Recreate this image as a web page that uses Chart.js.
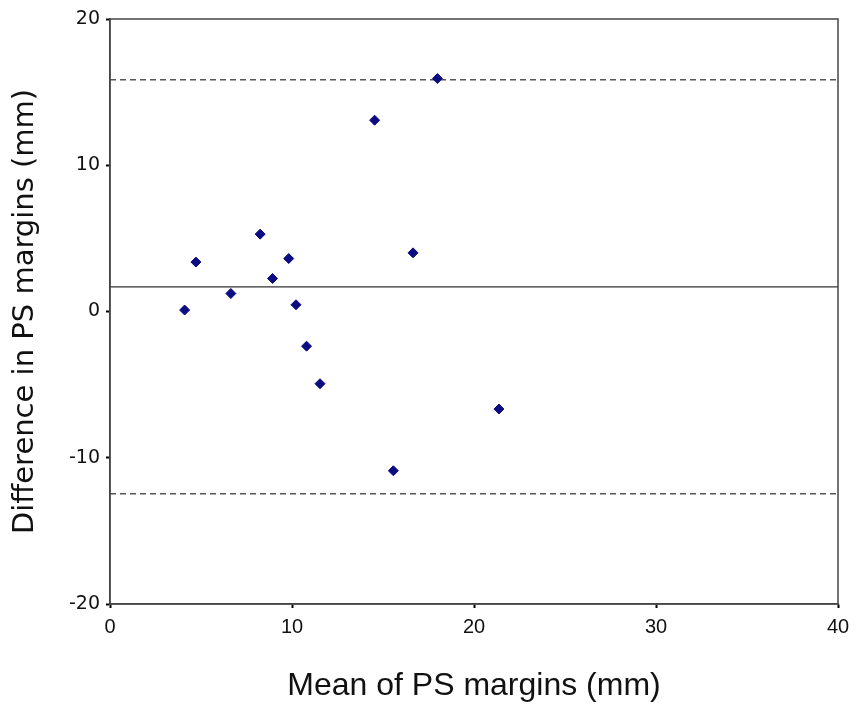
<!DOCTYPE html>
<html>
<head>
<meta charset="utf-8">
<title>Bland-Altman PS margins</title>
<script src="https://cdn.jsdelivr.net/npm/chart.js@4.4.1/dist/chart.umd.min.js"></script>
<style>
  html, body { margin: 0; padding: 0; background: #fff; }
  #wrap { width: 857px; height: 710px; position: relative; }
</style>
</head>
<body>
<div id="wrap"><canvas id="baChart"></canvas></div>
<script>
// --- Data ---
const meanPS = [4.10, 4.72, 6.64, 8.25, 8.93, 9.82, 10.22, 10.80, 11.54, 14.54, 15.57, 16.65, 17.99, 21.37];
const diffPS = [0.10, 3.38, 1.23, 5.29, 2.26, 3.62, 0.46, -2.37, -4.94, 13.08, -10.89, 4.01, 15.93, -6.67];

const meanDiff = 1.69;   // bias line
const upperLoA = 15.85;  // upper limit of agreement
const lowerLoA = -12.47; // lower limit of agreement

const xRange = [0, 40];
const yRange = [-20, 20];
const tickStep = 10;

// points for the scatter
const points = meanPS.map((m, i) => ({ x: m, y: diffPS[i] }));
const hLine = (v) => [{ x: xRange[0], y: v }, { x: xRange[1], y: v }];

// box round the plot area (top + right sides too)
const frame = {
    id: 'frame',
    afterDatasetsDraw(chart) {
        const { ctx, chartArea: a } = chart;
        ctx.save();
        ctx.strokeStyle = '#444';
        ctx.lineWidth = 1.5;
        ctx.strokeRect(a.left, a.top, a.right - a.left, a.bottom - a.top);
        ctx.restore();
    }
};

const ctx = document.getElementById('baChart').getContext('2d');
new Chart(ctx, {
    type: 'scatter',
    data: {
        datasets: [
            {
                label: 'Difference',
                data: points,
                backgroundColor: '#0b0b82',
                borderColor: '#0b0b82',
                pointStyle: 'rectRot',
                pointRadius: 5,
                order: 0
            },
            {
                type: 'line',
                label: 'Mean',
                data: hLine(meanDiff),
                borderColor: '#333',
                borderWidth: 1.2,
                pointRadius: 0,
                order: 1
            },
            {
                type: 'line',
                label: 'Upper',
                data: hLine(upperLoA),
                borderColor: '#555',
                borderWidth: 1.5,
                borderDash: [6, 4],
                pointRadius: 0,
                order: 1
            },
            {
                type: 'line',
                label: 'Lower',
                data: hLine(lowerLoA),
                borderColor: '#555',
                borderWidth: 1.5,
                borderDash: [6, 4],
                pointRadius: 0,
                order: 1
            }
        ]
    },
    options: {
        responsive: true,
        maintainAspectRatio: false,
        animation: false,
        layout: { padding: { top: 19, right: 19, left: 0, bottom: 0 } },
        plugins: {
            legend: { display: false },
            tooltip: { enabled: false }
        },
        scales: {
            x: {
                type: 'linear',
                min: xRange[0],
                max: xRange[1],
                ticks: {
                    stepSize: tickStep,
                    color: '#111',
                    padding: 7,
                    maxRotation: 0,
                    font: { family: 'Liberation Sans', size: 20 }
                },
                grid: { display: true, drawOnChartArea: false, tickLength: 4, tickWidth: 2, tickColor: '#000' },
                border: { display: true, color: '#444', width: 1.5 },
                title: {
                    display: true,
                    text: 'Mean of PS margins (mm)',
                    color: '#111',
                    font: { family: 'Liberation Sans', size: 32 },
                    padding: { top: 0, bottom: 5 }
                },
                afterFit: (s) => { s.height = 106; }
            },
            y: {
                type: 'linear',
                min: yRange[0],
                max: yRange[1],
                ticks: {
                    stepSize: tickStep,
                    color: '#111',
                    padding: 6,
                    font: { family: 'DejaVu Sans', size: 19 }
                },
                grid: { display: true, drawOnChartArea: false, tickLength: 4, tickWidth: 2, tickColor: '#000' },
                border: { display: true, color: '#444', width: 1.5 },
                title: {
                    display: true,
                    text: 'Difference in PS margins (mm)',
                    color: '#111',
                    font: { family: 'DejaVu Sans', size: 29 },
                    padding: { top: 8, bottom: 0 }
                },
                afterFit: (s) => { s.width = 110; }
            }
        }
    },
    plugins: [frame]
});
</script>
</body>
</html>
